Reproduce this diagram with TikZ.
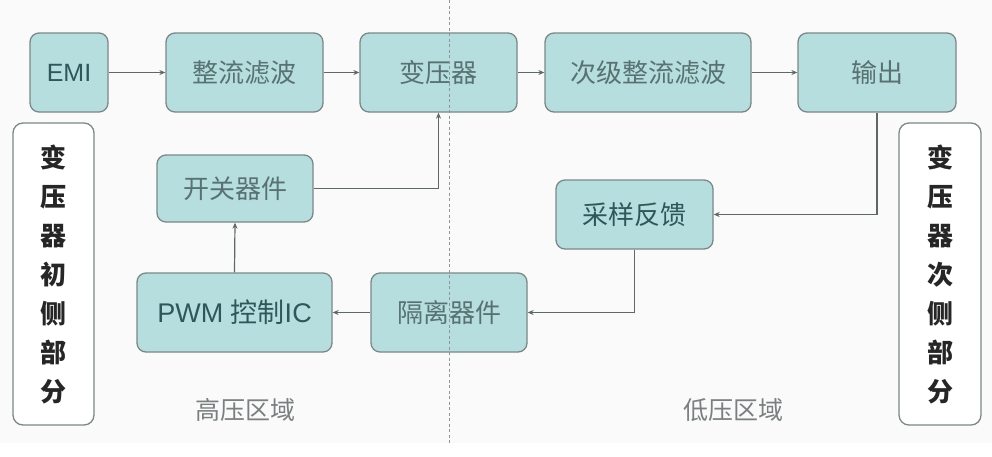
\documentclass[tikz,border=0pt]{standalone}
\usepackage{fontspec}
\setmainfont{Liberation Sans}
\newfontfamily\cjk{Noto Sans CJK SC}
\usetikzlibrary{arrows.meta}
\definecolor{boxfill}{HTML}{B7DEDE}
\definecolor{boxline}{HTML}{7B8788}
\definecolor{boxtext}{HTML}{587273}
\definecolor{darktext}{HTML}{2F5659}
\definecolor{conn}{HTML}{5F6869}
\definecolor{zonetext}{HTML}{7A7F80}
\definecolor{divline}{HTML}{8C949C}
\tikzset{
  blk/.style={draw=boxline, line width=1.3pt, fill=boxfill, rounded corners=9pt,
    inner sep=0pt, font=\fontsize{26}{28}\selectfont\cjk, text=boxtext},
  sidebox/.style={draw=boxline, line width=1.3pt, fill=white, rounded corners=10pt, inner sep=0pt},
  sidetext/.style={align=center, font=\fontsize{26}{39}\selectfont\cjk\bfseries, text=black!85, inner sep=0pt},
  conn/.style={draw=conn, line width=1.2pt, -{Stealth[length=6pt,width=5pt]}},
  zone/.style={font=\fontsize{25}{28}\selectfont\cjk, text=zonetext}
}
\begin{document}
\begin{tikzpicture}[x=1pt,y=-1pt]
\useasboundingbox (0,0) rectangle (992,456);
\fill[white] (0,0) rectangle (992,456);
\fill[black!2] (0,0) rectangle (992,443);
% top row
\node[blk, minimum width=78pt, minimum height=79pt, text=darktext, font=\fontsize{25}{28}\selectfont] (emi) at (69,72.5) {EMI};
\node[blk, minimum width=157pt, minimum height=79pt] (zl) at (244.5,72.5) {整流滤波};
\node[blk, minimum width=157pt, minimum height=79pt] (byq) at (438.5,72.5) {变压器};
\node[blk, minimum width=206pt, minimum height=79pt] (cj) at (648,72.5) {次级整流滤波};
\node[blk, minimum width=158pt, minimum height=79pt] (sc) at (877,72.5) {输出};
% middle
\node[blk, minimum width=156pt, minimum height=67pt] (kg) at (235,188.5) {开关器件};
\node[blk, minimum width=157pt, minimum height=69pt, text=darktext] (cy) at (634.5,214.5) {采样反馈};
% bottom
\node[blk, minimum width=195pt, minimum height=79pt, text=darktext, font=\fontsize{27}{28}\selectfont] (pwm) at (234.5,312.5) {PWM {\cjk 控制}IC};
\node[blk, minimum width=156pt, minimum height=79pt] (gl) at (449,312.5) {隔离器件};
% side boxes
\node[sidebox, minimum width=81pt, minimum height=302pt] (lb) at (53.5,274) {};
\node[sidetext] (lt) at (lb.center) {变\\压\\器\\初\\侧\\部\\分};
\node[sidebox, minimum width=82pt, minimum height=302pt] (rb) at (940,274) {};
\node[sidetext] (rt) at (rb.center) {变\\压\\器\\次\\侧\\部\\分};
% zone labels
\node[zone] (hv) at (245,410) {高压区域};
\node[zone] (lv) at (733,410) {低压区域};
% connectors
\draw[conn] (emi) -- (zl);
\draw[conn] (zl) -- (byq);
\draw[conn] (byq) -- (cj);
\draw[conn] (cj) -- (sc);
\draw[conn] (kg.east) -| (byq.south);
\draw[conn] (sc.south) |- (cy.east);
\draw[conn] (cy.south) |- (gl.east);
\draw[conn] (gl.west) -- (pwm.east);
\draw[conn] (pwm.north) -- (kg.south);
% divider
\coordinate (dtop) at (449,0);
\coordinate (dbot) at (449,443);
\draw[divline, line width=1pt, dash pattern=on 3pt off 2.5pt] (dtop) -- (dbot);
\end{tikzpicture}
\end{document}
